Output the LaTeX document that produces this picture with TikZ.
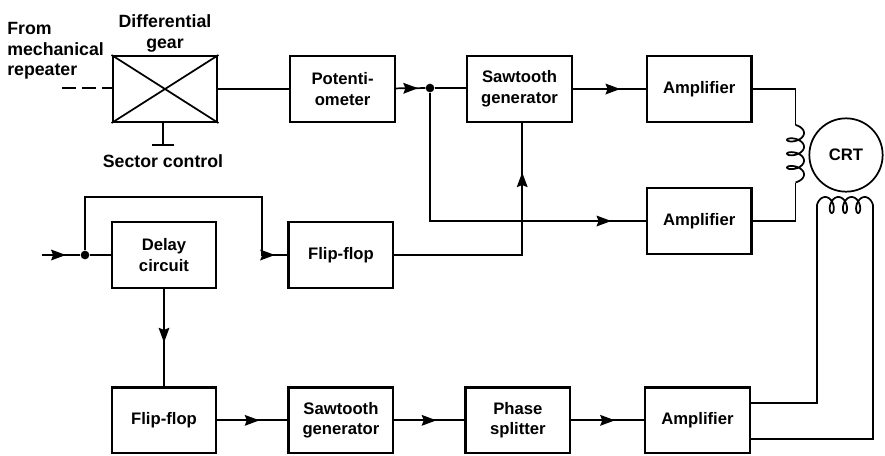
\documentclass[tikz,border=0pt]{standalone}
\usepackage{fontspec}
\setmainfont{Liberation Sans}
\usepackage{tikz}
\usetikzlibrary{arrows.meta,positioning,decorations.markings}

\begin{document}
\begin{tikzpicture}[
    x=0.75pt, y=-0.75pt,
    font=\fontsize{12.5}{15.5}\selectfont\bfseries,
    node distance=48pt and 52.5pt,
    block/.style={draw, line width=1.7pt, align=center, minimum width=78.5pt, minimum height=49.3pt, inner sep=2pt},
    label/.style={align=center, inner sep=0pt, font=\fontsize{13.3}{15.4}\selectfont\bfseries},
    junction/.style={circle, fill, inner sep=0pt, minimum size=6.5pt},
    wire/.style={line width=1.3pt},
    midarrow/.style={wire, postaction={decorate, decoration={markings, mark=at position #1 with {\arrow{Stealth[length=11pt, width=8pt, inset=1.5pt]}}}}}
]
\useasboundingbox (0,0) rectangle (885,455);

% ---------- Top row ----------
\node[block] (gear) at (165,89) {};
\node[block, right=53pt of gear] (pot) {Potenti-\\ometer};
\node[block, right=of pot] (sawA) {Sawtooth\\generator};
\node[block, right=54.5pt of sawA] (ampA) {Amplifier};
\node[block, below=of ampA] (ampB) {Amplifier};

% ---------- Middle row ----------
\node[block] (delay) at (164,255) {Delay\\circuit};
\node[block, right=of delay] (flipA) {Flip-flop};

% ---------- Bottom row ----------
\node[block, below=73pt of delay] (flipB) {Flip-flop};
\node[block, right=of flipB] (sawB) {Sawtooth\\generator};
\node[block, right=of sawB] (phase) {Phase\\splitter};
\node[block, right=54.5pt of phase] (ampC) {Amplifier};

\node[draw, circle, line width=1.3pt, minimum size=55pt, inner sep=0pt] (crt) at (846,155) {CRT};

% ---------- Labels ----------
\node[label, align=left, anchor=north west] (fromlabel) at (7,22) {From\\mechanical\\repeater};
\node[label, above=2pt of gear] (gearlabel) {Differential\\gear};
\node[label] (sectorlabel) at (163,161) {Sector control};

% ---------- Junctions and free ends ----------
\node[junction] (dotA) at (430,88) {};
\node[junction] (dotB) at (85,255) {};
\coordinate (dashend) at (62,88);
\coordinate (sector) at (163,145);
\coordinate (input) at (42,255);
\coordinate (loopB) at (262,197);
\coordinate (coilAtop) at (795.5,125);
\coordinate (coilAbot) at (795.5,183);
\coordinate (coilBleft) at (817,205);
\coordinate (coilBright) at (873,205);

% ---------- Differential gear ----------
\draw[wire] (gear.north west) -- (gear.south east);
\draw[wire] (gear.south west) -- (gear.north east);
\draw[wire, dash pattern=on 10.5pt off 4.5pt] (dashend) -- (dashend -| gear.west);
\draw[wire] (gear) -- (pot);
\draw[wire] (gear.south -| sector) -- (sector);
\draw[line width=1.6pt] ([xshift=-8pt]sector) -- ([xshift=8pt]sector);

% ---------- Edges ----------
\draw[midarrow=0.75] (pot) -- (dotA);
\draw[wire] (dotA) -- (dotA -| sawA.west);
\draw[midarrow=0.65] (sawA) -- (ampA);
\draw[midarrow=0.9] (dotA) |- (ampB);
\draw[midarrow=0.81] (flipA) -| ([xshift=2pt]sawA.south);

\draw[midarrow=0.62] (input) -- (dotB);
\draw[wire] (dotB) -- (delay);
\draw[midarrow=0.96] (dotB) |- (loopB) -- (loopB |- flipA.west) -- (flipA);
\draw[midarrow=0.55] (delay) -- (flipB);

\draw[midarrow=0.6] (flipB) -- (sawB);
\draw[midarrow=0.6] (sawB) -- (phase);
\draw[midarrow=0.6] (phase) -- (ampC);

% ---------- CRT coils ----------
\draw[wire] (ampA.east) -| (coilAtop);
\draw[wire] plot[domain=-90:1170, samples=160, smooth] ({795.5+8.5*cos(\x)}, {129.5+0.0384*(\x+90)+4.5*sin(\x)});
\draw[wire] (coilAbot) |- (ampB.east);
\draw[wire] ([yshift=13pt]ampC.east) -| (coilBleft);
\draw[wire] plot[domain=-90:1170, samples=160, smooth] ({821.9+0.0366*(\x+90)+4.9*sin(\x)}, {205-8*cos(\x)});
\draw[wire] (coilBright) |- ([yshift=-14pt]ampC.east);

\end{tikzpicture}
\end{document}
